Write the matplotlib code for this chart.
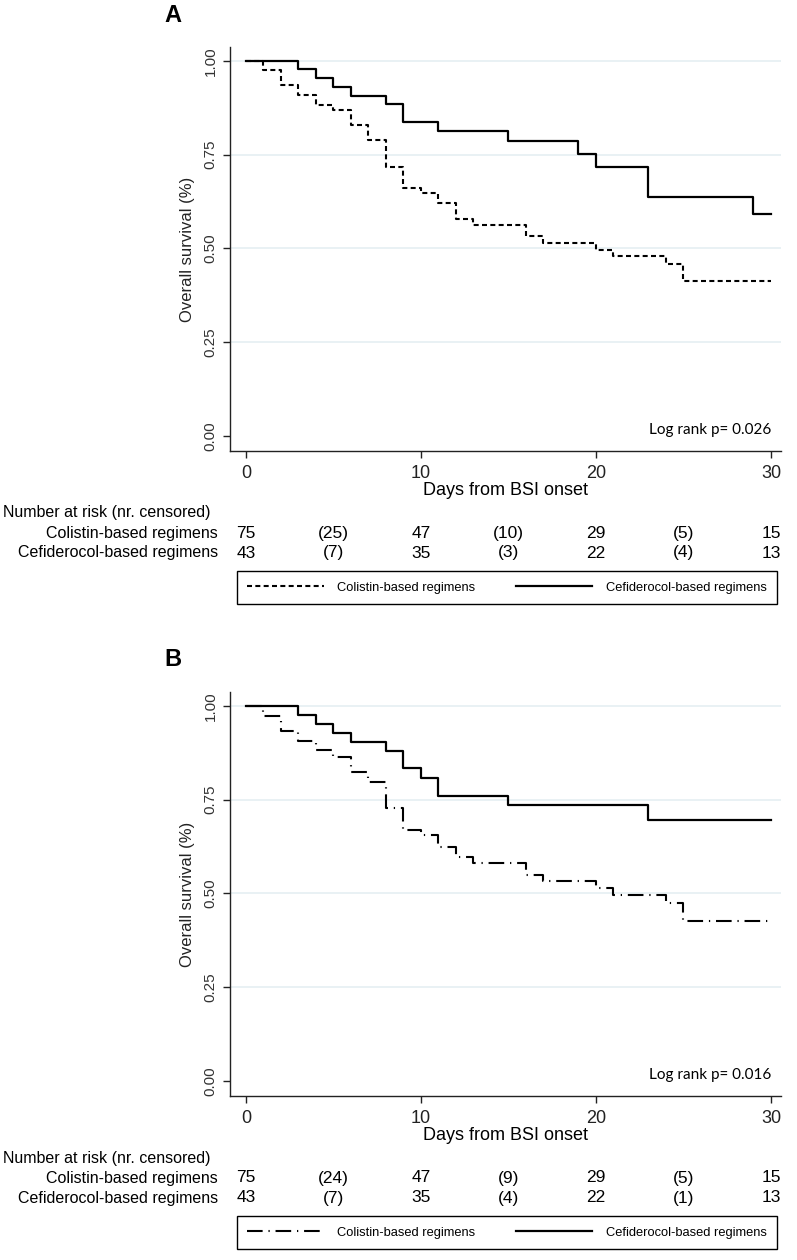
import numpy as np
import matplotlib.pyplot as plt
from matplotlib import font_manager, transforms

# fonts: narrow Arial look-alike if present
names = {f.name for f in font_manager.fontManager.ttflist}
NARROW = 'Liberation Sans Narrow' if 'Liberation Sans Narrow' in names else 'Liberation Sans'
SANS = 'Liberation Sans'

# ---- panel A: Kaplan-Meier steps ----
a_col_days = [0, 1, 2, 3, 4, 5, 6, 7, 8, 9, 10, 11, 12, 13, 16, 17, 20, 21, 24, 25, 30]
a_col_surv = [1.0, 0.976, 0.936, 0.909, 0.883, 0.868, 0.828, 0.788, 0.718, 0.662, 0.647,
              0.620, 0.578, 0.563, 0.532, 0.514, 0.496, 0.480, 0.458, 0.413, 0.413]
a_cef_days = [0, 3, 4, 5, 6, 8, 9, 11, 15, 19, 20, 23, 29, 30]
a_cef_surv = [1.0, 0.978, 0.954, 0.931, 0.907, 0.884, 0.837, 0.812, 0.786, 0.752, 0.716,
              0.638, 0.593, 0.593]

# ---- panel B ----
b_col_days = [0, 1, 2, 3, 4, 5, 6, 7, 8, 9, 10, 11, 12, 13, 16, 17, 20, 21, 24, 25, 30]
b_col_surv = [1.0, 0.974, 0.934, 0.907, 0.883, 0.865, 0.825, 0.798, 0.729, 0.670, 0.656,
              0.625, 0.598, 0.582, 0.549, 0.532, 0.514, 0.496, 0.474, 0.427, 0.427]
b_cef_days = [0, 3, 4, 5, 6, 8, 9, 10, 11, 15, 23, 30]
b_cef_surv = [1.0, 0.976, 0.952, 0.928, 0.905, 0.881, 0.834, 0.809, 0.761, 0.736, 0.696, 0.696]

# number at risk table
risk_days = [0, 10, 20, 30]
cens_days = [5, 15, 25]
a_col_risk = [75, 47, 29, 15]
a_col_cens = [25, 10, 5]
a_cef_risk = [43, 35, 22, 13]
a_cef_cens = [7, 3, 4]
b_col_risk = [75, 47, 29, 15]
b_col_cens = [24, 9, 5]
b_cef_risk = [43, 35, 22, 13]
b_cef_cens = [7, 4, 1]

groups = ['Colistin-based regimens', 'Cefiderocol-based regimens']
yticks = [0, 0.25, 0.5, 0.75, 1.0]
xticks = [0, 10, 20, 30]

W, H = 797, 1260
fig = plt.figure(figsize=(W / 100, H / 100), dpi=100)


def panel(off, letter, col_days, col_surv, cef_days, cef_surv, col_ls,
          col_risk, col_cens, cef_risk, cef_cens, pval):
    # axes placed in pixel terms
    left, right, top, bottom = 230.25, 781.5, 47 + off, 451 + off
    ax = fig.add_axes([left / W, 1 - bottom / H, (right - left) / W, (bottom - top) / H])
    ax.set_xlim(-0.9, 30.6)
    ax.set_ylim(-0.04, 1.037)
    for y in yticks[1:]:
        ax.axhline(y, color='#e3eef1', lw=1.1, zorder=0)
    lc, = ax.step(col_days, col_surv, where='post', color='black', lw=1.5, linestyle=col_ls)
    lf, = ax.step(cef_days, cef_surv, where='post', color='black', lw=1.6)
    for s in ['top', 'right']:
        ax.spines[s].set_visible(False)
    for s in ['left', 'bottom']:
        ax.spines[s].set_color('#222222')
        ax.spines[s].set_linewidth(1.0)
    ax.set_xticks(xticks)
    ax.set_yticks(yticks)
    ax.set_yticklabels(['%.2f' % v for v in yticks], rotation=90, va='center',
                       family=SANS, fontsize=11, color='#333333')
    ax.set_xticklabels([str(v) for v in xticks], family=NARROW, fontsize=13, color='#222222')
    ax.tick_params(length=5, width=1, color='#222222')
    ax.tick_params(axis='x', pad=5)
    ax.tick_params(axis='y', pad=4)
    ax.set_xlabel('Days from BSI onset', family=NARROW, fontsize=13, labelpad=0)
    ax.set_ylabel('Overall survival (%)', family=SANS, fontsize=12, labelpad=6, color='#222222')
    ax.text(30, 0.015, 'Log rank p= ' + pval, ha='right', va='center',
            family=['Lato', 'DejaVu Sans'], fontsize=11)

    fig.text(173 / W, 1 - (15 + off) / H, letter, ha='center', va='center',
             family=SANS, fontweight='bold', fontsize=17)

    # risk table
    tr = transforms.blended_transform_factory(ax.transData, fig.transFigure)
    fig.text(3 / W, 1 - (513 + off) / H, 'Number at risk (nr. censored)', ha='left',
             va='center', family=SANS, fontsize=11.5)
    rows = [(groups[0], col_risk, col_cens, 533), (groups[1], cef_risk, cef_cens, 553)]
    for name, risk, cens, ypx in rows:
        yf = 1 - (ypx + off) / H
        fig.text(218 / W, yf, name, ha='right', va='center', family=SANS, fontsize=11.5)
        for d, n in zip(risk_days, risk):
            ax.text(d, yf, str(n), transform=tr, ha='center', va='center',
                    family=NARROW, fontsize=12.5)
        for d, n in zip(cens_days, cens):
            ax.text(d, yf, '(%d)' % n, transform=tr, ha='center', va='center',
                    family=NARROW, fontsize=12.5)

    leg = fig.legend([lc, lf], groups, loc='center', ncol=2, mode='expand',
                     bbox_to_anchor=(237 / W, 1 - (606 + off) / H, 540 / W, 37 / H),
                     fancybox=False, edgecolor='black', framealpha=1, borderpad=0.8,
                     handlelength=5.9, handletextpad=1.05, columnspacing=1.5,
                     prop={'family': NARROW, 'size': 9.3}, borderaxespad=0)
    leg.get_frame().set_linewidth(1.0)


panel(0, 'A', a_col_days, a_col_surv, a_cef_days, a_cef_surv, (0, (2.4, 1.6)),
      a_col_risk, a_col_cens, a_cef_risk, a_cef_cens, '0.026')
panel(645, 'B', b_col_days, b_col_surv, b_cef_days, b_cef_surv, (0, (7.5, 2.8, 0.6, 2.8)),
      b_col_risk, b_col_cens, b_cef_risk, b_cef_cens, '0.016')

fig.savefig('out.png', dpi=100)
